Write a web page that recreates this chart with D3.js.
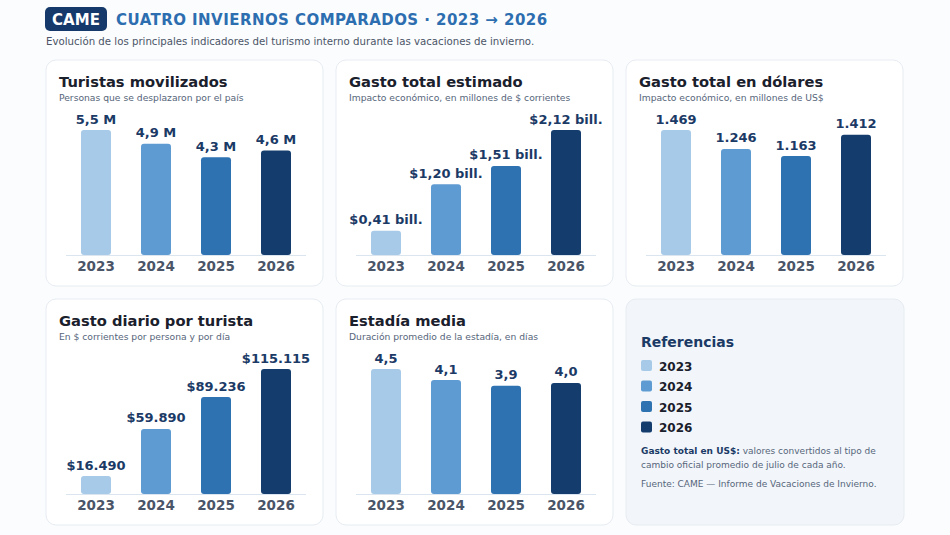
<!DOCTYPE html>
<html>
<head>
<meta charset="utf-8">
<script src="https://cdn.jsdelivr.net/npm/d3@7"></script>
<style>
  body { margin: 0; background: #fbfcfd; font-family: "DejaVu Sans", sans-serif; }
  svg { display: block; }
</style>
</head>
<body>
<svg id="drawing_region"></svg>
<script>
// data
const years = ["2023", "2024", "2025", "2026"];
const colors = ["#a7cae8", "#5e9bd2", "#2e72b2", "#143c6d"];

const turistas = [5.5, 4.9, 4.3, 4.6];          // millones de personas
const gastoTotal = [0.41, 1.20, 1.51, 2.12];    // billones de $
const gastoUsd = [1469, 1246, 1163, 1412];      // millones de US$
const gastoDiario = [16490, 59890, 89236, 115115];
const estadia = [4.5, 4.1, 3.9, 4.0];

const es = d3.formatLocale({ decimal: ",", thousands: ".", grouping: [3], currency: ["$", ""] });

const panels = [
    { title: "Turistas movilizados", sub: "Personas que se desplazaron por el país",
      values: turistas, fmt: d => es.format(".1f")(d) + " M", col: 0, row: 0 },
    { title: "Gasto total estimado", sub: "Impacto económico, en millones de $ corrientes",
      values: gastoTotal, fmt: d => "$" + es.format(".2f")(d) + " bill.", col: 1, row: 0 },
    { title: "Gasto total en dólares", sub: "Impacto económico, en millones de US$",
      values: gastoUsd, fmt: d => es.format(",")(d), col: 2, row: 0 },
    { title: "Gasto diario por turista", sub: "En $ corrientes por persona y por día",
      values: gastoDiario, fmt: d => "$" + es.format(",")(d), col: 0, row: 1 },
    { title: "Estadía media", sub: "Duración promedio de la estadía, en días",
      values: estadia, fmt: d => es.format(".1f")(d), col: 1, row: 1 }
];

const W = 950, H = 535;
const card = { x0: 46, y0: 60, w: 277, h: 226, gx: 290, gy: 239 };

const svg = d3.select("#drawing_region")
    .attr("width", W)
    .attr("height", H);

// header
svg.append("rect")
    .attr("x", 45).attr("y", 7).attr("width", 62).attr("height", 24)
    .attr("rx", 5).attr("fill", "#15396a");
svg.append("text")
    .attr("x", 76).attr("y", 25)
    .attr("text-anchor", "middle")
    .attr("fill", "white")
    .attr("font-size", "15px")
    .attr("font-weight", "bold")
    .text("CAME");
svg.append("text")
    .attr("x", 116).attr("y", 25)
    .attr("fill", "#2c6eb0")
    .attr("font-size", "15px")
    .attr("font-weight", "bold")
    .attr("letter-spacing", "0.45px")
    .text("CUATRO INVIERNOS COMPARADOS · 2023 → 2026");
svg.append("text")
    .attr("x", 46).attr("y", 45)
    .attr("fill", "#4a5568")
    .attr("font-size", "10.2px")
    .text("Evolución de los principales indicadores del turismo interno durante las vacaciones de invierno.");

const xscale = d3.scaleBand()
    .domain(years)
    .range([20, 260])
    .paddingInner(0.5)
    .paddingOuter(0.25);

panels.forEach(p => {
    const g = svg.append("g")
        .attr("transform", `translate(${card.x0 + p.col * card.gx}, ${card.y0 + p.row * card.gy})`);

    g.append("rect")
        .attr("width", card.w).attr("height", card.h)
        .attr("rx", 10)
        .attr("fill", "#ffffff")
        .attr("stroke", "#e7ecf2");

    g.append("text")
        .attr("x", 13).attr("y", 27)
        .attr("fill", "#1a202c")
        .attr("font-size", "14.7px")
        .attr("font-weight", "bold")
        .text(p.title);
    g.append("text")
        .attr("x", 13).attr("y", 41)
        .attr("fill", "#56657a")
        .attr("font-size", "9.2px")
        .text(p.sub);

    const yscale = d3.scaleLinear()
        .domain([0, d3.max(p.values)])
        .range([195, 70]);

    g.append("line")
        .attr("x1", 20).attr("x2", 260)
        .attr("y1", 195.5).attr("y2", 195.5)
        .attr("stroke", "#dbe5ef");

    g.selectAll(".bar")
        .data(p.values)
        .enter()
        .append("rect")
        .attr("x", (d, i) => xscale(years[i]))
        .attr("y", d => yscale(d))
        .attr("width", xscale.bandwidth())
        .attr("height", d => yscale(0) - yscale(d))
        .attr("rx", 3)
        .attr("fill", (d, i) => colors[i]);

    g.selectAll(".val")
        .data(p.values)
        .enter()
        .append("text")
        .attr("x", (d, i) => xscale(years[i]) + xscale.bandwidth() / 2)
        .attr("y", d => yscale(d) - 6.5)
        .attr("text-anchor", "middle")
        .attr("fill", "#1b3a66")
        .attr("font-size", "13px")
        .attr("font-weight", "bold")
        .text(d => p.fmt(d));

    const xaxis = d3.axisBottom(xscale).tickSize(0).tickPadding(6);
    const ax = g.append("g")
        .attr("transform", "translate(0, 195)")
        .call(xaxis);
    ax.select(".domain").remove();
    ax.selectAll("text")
        .attr("fill", "#4a5568")
        .attr("font-size", "13.5px")
        .attr("font-weight", "bold")
        .attr("font-family", "DejaVu Sans, sans-serif");
});

// legend card
const lg = svg.append("g")
    .attr("transform", `translate(${card.x0 + 2 * card.gx}, ${card.y0 + card.gy})`);
lg.append("rect")
    .attr("width", card.w + 1).attr("height", card.h)
    .attr("rx", 10)
    .attr("fill", "#f2f6fa")
    .attr("stroke", "#e7ecf2");
lg.append("text")
    .attr("x", 15).attr("y", 48)
    .attr("fill", "#1b3a66")
    .attr("font-size", "14px")
    .attr("font-weight", "bold")
    .text("Referencias");

const item = lg.selectAll(".item")
    .data(years)
    .enter()
    .append("g")
    .attr("transform", (d, i) => `translate(15, ${67 + i * 20.5})`);
item.append("rect")
    .attr("x", 0).attr("y", -6)
    .attr("width", 11).attr("height", 11)
    .attr("rx", 2)
    .attr("fill", (d, i) => colors[i]);
item.append("text")
    .attr("x", 18).attr("y", 4.5)
    .attr("fill", "#1a202c")
    .attr("font-size", "12px")
    .attr("font-weight", "bold")
    .text(d => d);

const note = lg.append("text")
    .attr("x", 15).attr("y", 155)
    .attr("font-size", "9px")
    .attr("fill", "#56657a");
note.append("tspan")
    .attr("fill", "#1b3a66")
    .attr("font-weight", "bold")
    .text("Gasto total en US$:");
note.append("tspan").text(" valores convertidos al tipo de");
lg.append("text")
    .attr("x", 15).attr("y", 169)
    .attr("font-size", "9px")
    .attr("fill", "#56657a")
    .text("cambio oficial promedio de julio de cada año.");
lg.append("text")
    .attr("x", 15).attr("y", 188)
    .attr("font-size", "9px")
    .attr("fill", "#56657a")
    .text("Fuente: CAME — Informe de Vacaciones de Invierno.");
</script>
</body>
</html>
